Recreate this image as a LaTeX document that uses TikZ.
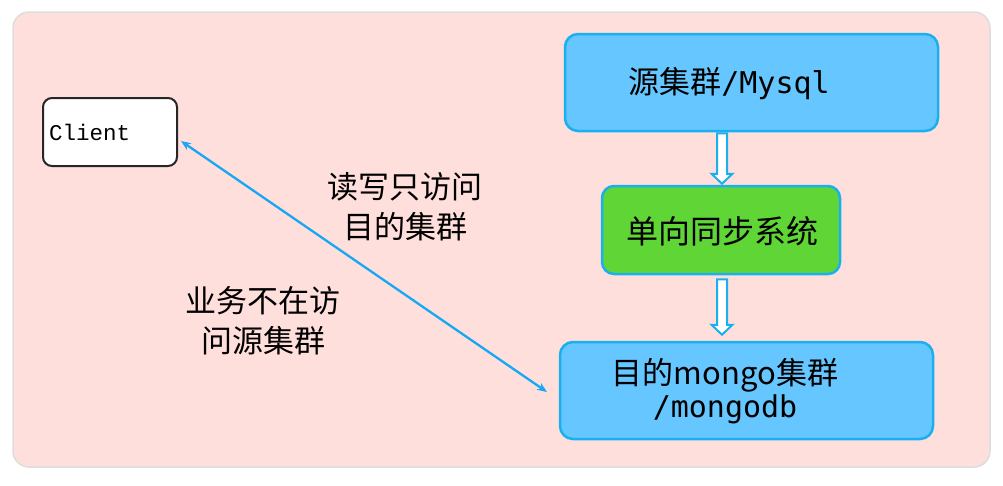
\documentclass[tikz,border=0pt]{standalone}
\usepackage{fontspec}
\usetikzlibrary{arrows.meta}
\newfontfamily\cjk{Noto Sans CJK SC}
\newfontfamily\monof{DejaVu Sans Mono}
\newfontfamily\courf{Liberation Mono}
\definecolor{bgpink}{HTML}{FFDFDC}
\definecolor{bggray}{HTML}{DDDDDD}
\definecolor{boxblue}{HTML}{66C6FF}
\definecolor{edgeblue}{HTML}{1AB0F0}
\definecolor{boxgreen}{HTML}{5FD636}
\definecolor{linkblue}{HTML}{17A8F5}
\begin{document}
\begin{tikzpicture}[x=1pt,y=-1pt,
  bigbox/.style={draw=edgeblue, line width=2.5pt, rounded corners=13pt, inner sep=0pt},
  hollow/.style={draw=edgeblue, fill=white, line width=2pt, line join=miter},
  lbl/.style={align=center, inner sep=0pt, font=\cjk\fontsize{31}{40}\selectfont}]
\useasboundingbox (0,0) rectangle (1003,485);
\node[draw=bggray, line width=1.5pt, fill=bgpink, rounded corners=16pt, minimum width=977pt, minimum height=455pt, inner sep=0pt] (bg) at (501.5,239.5) {};
% client
\node[draw=black!85, line width=2pt, fill=white, rounded corners=9pt, minimum width=134pt, minimum height=68pt, inner sep=0pt] (client) at (110,132) {};
\node[anchor=west, inner sep=0pt, font=\courf\fontsize{22.5}{24}\selectfont] (clienttxt) at (49,132) {Client};
% source
\node[bigbox, fill=boxblue, minimum width=373pt, minimum height=97pt] (src) at (751.5,82.5) {};
\node[inner sep=0pt] (srctxt) at (729,84) {{\cjk\fontsize{31}{36}\selectfont 源集群}{\monof\fontsize{30}{36}\selectfont /Mysql}};
% sync
\node[bigbox, fill=boxgreen, rounded corners=12pt, minimum width=238pt, minimum height=88pt] (sync) at (721,230) {};
\node[inner sep=0pt, font=\cjk\fontsize{32}{36}\selectfont] (synctxt) at (722,231) {单向同步系统};
% dest
\node[bigbox, fill=boxblue, minimum width=373pt, minimum height=97pt] (dst) at (746.5,390.5) {};
\node[inner sep=0pt, align=center] (dsttxt) at (725,391) {{\cjk\fontsize{31}{39}\selectfont 目的mongo集群}\\[1pt]{\monof\fontsize{30}{39}\selectfont /mongodb}};
% hollow arrows (yshift: positive = up on the page)
\coordinate (h1) at (src.south -| 722,0);
\coordinate (e1) at (sync.north -| 722,0);
\draw[hollow] ([xshift=-5pt,yshift=-1pt]h1) -- ([xshift=-5pt,yshift=11pt]e1) -- ([xshift=-10.5pt,yshift=11pt]e1) -- ([yshift=1pt]e1)
  -- ([xshift=10.5pt,yshift=11pt]e1) -- ([xshift=5pt,yshift=11pt]e1) -- ([xshift=5pt,yshift=-1pt]h1) -- cycle;
\coordinate (h2) at (sync.south -| 722,0);
\coordinate (e2) at (dst.north -| 722,0);
\draw[hollow] ([xshift=-5pt,yshift=-4pt]h2) -- ([xshift=-5pt,yshift=16pt]e2) -- ([xshift=-10.5pt,yshift=16pt]e2) -- ([yshift=6pt]e2)
  -- ([xshift=10.5pt,yshift=16pt]e2) -- ([xshift=5pt,yshift=16pt]e2) -- ([xshift=5pt,yshift=-4pt]h2) -- cycle;
% link
\coordinate (p1) at (181,141);
\coordinate (p2) at (547,392);
\draw[linkblue, line width=2.3pt, {Stealth[length=10pt,width=8pt]}-{Stealth[length=10pt,width=8pt]}] (p1) -- (p2);
% labels
\node[lbl] (l1) at (405,207) {读写只访问\\目的集群};
\node[lbl] (l2) at (263,321) {业务不在访\\问源集群};
\end{tikzpicture}
\end{document}
